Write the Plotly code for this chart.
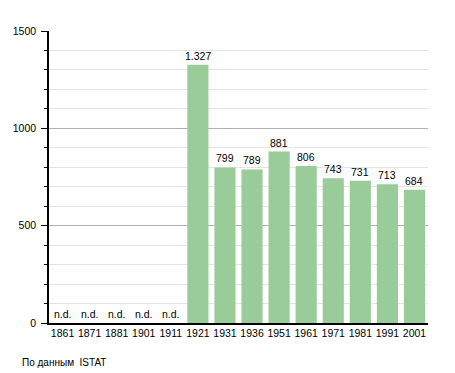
import plotly.graph_objects as go

years = ["1861", "1871", "1881", "1901", "1911", "1921", "1931", "1936",
         "1951", "1961", "1971", "1981", "1991", "2001"]
population = [None, None, None, None, None, 1327, 799, 789, 881, 806, 743, 731, 713, 684]
labels = ["n.d.", "n.d.", "n.d.", "n.d.", "n.d.", "1.327", "799", "789",
          "881", "806", "743", "731", "713", "684"]
y_ticks = [0, 500, 1000, 1500]

bar_vals = [v if v is not None else 0 for v in population]

fig = go.Figure()
fig.add_trace(go.Bar(
    x=years, y=bar_vals,
    marker=dict(color="#99cc99", line=dict(width=0)),
    hoverinfo="x+y",
))

for i, (v, t) in enumerate(zip(population, labels)):
    fig.add_annotation(x=i, y=(v if v is not None else 0), text=t, showarrow=False,
                       yanchor="bottom", yshift=1, font=dict(size=10.5, color="#000"))

fig.add_annotation(xref="paper", yref="paper", x=-0.0765, y=-0.1336, xanchor="left",
                   yanchor="middle", text="По данным  ISTAT", showarrow=False,
                   font=dict(size=10, color="#000"))

fig.update_layout(
    width=447, height=365,
    margin=dict(l=41, r=27, t=23, b=50),
    paper_bgcolor="white", plot_bgcolor="white",
    font=dict(family="Liberation Sans, Arial, sans-serif", size=10, color="#000"),
    bargap=0.22, showlegend=False,
    xaxis=dict(type="category", showline=True, linecolor="#000", linewidth=1.5,
               ticks="", tickangle=0, tickfont=dict(size=10.5), showgrid=False,
               automargin=False),
    yaxis=dict(range=[0, 1500], tickvals=y_ticks, showline=True, linecolor="#000",
               linewidth=1.5, ticks="outside", ticklen=6, tickcolor="#000",
               ticklabelstandoff=3, automargin=False, tickfont=dict(size=10.5),
               gridcolor="#b0b0b0", gridwidth=1, zeroline=False,
               minor=dict(dtick=100, ticks="outside", ticklen=3, tickcolor="#000",
                          showgrid=True, gridcolor="#e4e4e4", gridwidth=1)),
)

fig.write_html("out.html")
